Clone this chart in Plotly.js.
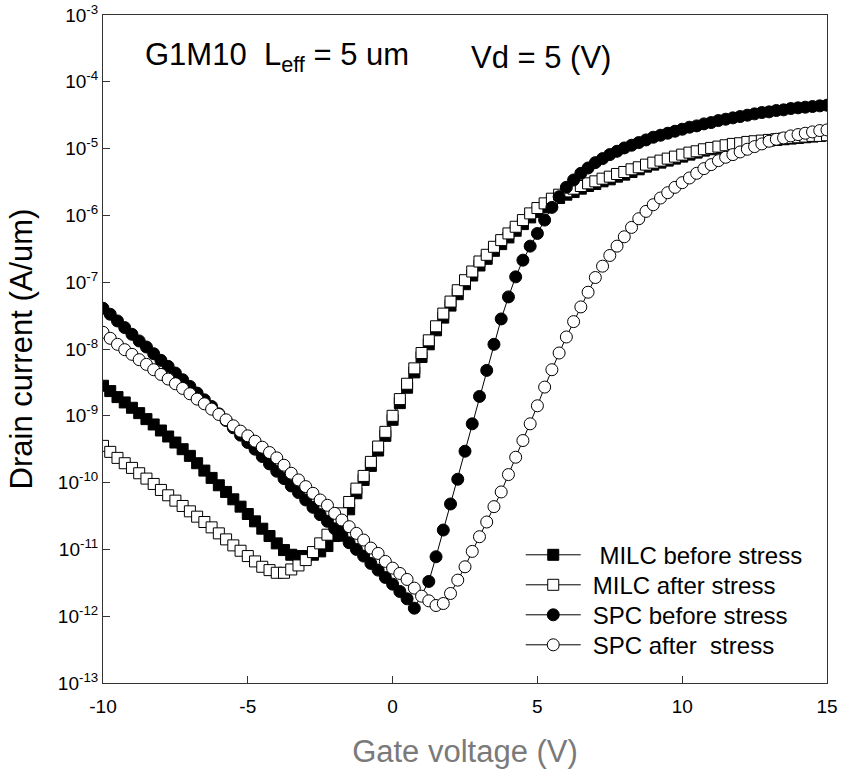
<!DOCTYPE html>
<html>
<head>
<meta charset="utf-8">
<script src="https://cdn.plot.ly/plotly-3.0.1.min.js"></script>
<style>
html,body{margin:0;padding:0;background:#fff;}
#chart{width:842px;height:774px;}
</style>
</head>
<body>
<div id="chart"></div>
<script>
// Gate voltage (V)
const gateVoltage = [
-10,-9.75,-9.5,-9.25,-9,-8.75,-8.5,-8.25,-8,-7.75,
-7.5,-7.25,-7,-6.75,-6.5,-6.25,-6,-5.75,-5.5,-5.25,
-5,-4.75,-4.5,-4.25,-4,-3.75,-3.5,-3.25,-3,-2.75,
-2.5,-2.25,-2,-1.75,-1.5,-1.25,-1,-0.75,-0.5,-0.25,
0,0.25,0.5,0.75,1,1.25,1.5,1.75,2,2.25,
2.5,2.75,3,3.25,3.5,3.75,4,4.25,4.5,4.75,
5,5.25,5.5,5.75,6,6.25,6.5,6.75,7,7.25,
7.5,7.75,8,8.25,8.5,8.75,9,9.25,9.5,9.75,
10,10.25,10.5,10.75,11,11.25,11.5,11.75,12,12.25,
12.5,12.75,13,13.25,13.5,13.75,14,14.25,14.5,14.75,
15];

// log10 of drain current (A/um)
const milcBeforeLog = [
-8.55,-8.63,-8.72,-8.80,-8.88,-8.96,-9.05,-9.13,-9.22,-9.31,
-9.40,-9.50,-9.60,-9.71,-9.82,-9.93,-10.04,-10.14,-10.25,-10.36,
-10.47,-10.58,-10.69,-10.80,-10.91,-11.01,-11.08,-11.10,-11.10,-11.08,
-11.03,-10.95,-10.80,-10.62,-10.40,-10.16,-9.96,-9.75,-9.52,-9.30,
-9.06,-8.81,-8.58,-8.35,-8.12,-7.93,-7.72,-7.53,-7.35,-7.18,
-7.03,-6.90,-6.75,-6.65,-6.53,-6.43,-6.33,-6.23,-6.13,-6.03,
-5.95,-5.88,-5.80,-5.74,-5.69,-5.65,-5.60,-5.56,-5.53,-5.49,
-5.46,-5.42,-5.39,-5.35,-5.31,-5.27,-5.24,-5.21,-5.18,-5.15,
-5.12,-5.09,-5.06,-5.03,-5.01,-4.99,-4.97,-4.95,-4.93,-4.91,
-4.90,-4.89,-4.88,-4.87,-4.86,-4.85,-4.84,-4.83,-4.82,-4.81,
-4.80];

const milcAfterLog = [
-9.45,-9.54,-9.63,-9.71,-9.78,-9.86,-9.94,-10.02,-10.11,-10.19,
-10.27,-10.35,-10.43,-10.51,-10.59,-10.67,-10.76,-10.85,-10.94,-11.02,
-11.10,-11.18,-11.26,-11.31,-11.35,-11.35,-11.30,-11.24,-11.16,-11.04,
-10.91,-10.78,-10.62,-10.46,-10.29,-10.09,-9.90,-9.69,-9.46,-9.24,
-9.00,-8.75,-8.52,-8.29,-8.06,-7.87,-7.66,-7.47,-7.29,-7.12,
-6.97,-6.84,-6.69,-6.59,-6.47,-6.37,-6.27,-6.17,-6.07,-5.97,
-5.89,-5.82,-5.75,-5.69,-5.64,-5.60,-5.56,-5.52,-5.49,-5.45,
-5.42,-5.38,-5.35,-5.31,-5.28,-5.24,-5.21,-5.18,-5.15,-5.12,
-5.09,-5.06,-5.04,-5.01,-4.99,-4.97,-4.95,-4.93,-4.92,-4.90,
-4.89,-4.88,-4.87,-4.86,-4.85,-4.84,-4.83,-4.82,-4.81,-4.81,
-4.80];

const spcBeforeLog = [
-7.39,-7.48,-7.58,-7.68,-7.78,-7.88,-7.97,-8.07,-8.17,-8.26,
-8.36,-8.46,-8.56,-8.66,-8.76,-8.86,-8.97,-9.07,-9.18,-9.29,
-9.40,-9.50,-9.61,-9.72,-9.83,-9.94,-10.05,-10.15,-10.26,-10.37,
-10.48,-10.58,-10.69,-10.79,-10.90,-11.00,-11.10,-11.21,-11.31,-11.42,
-11.52,-11.63,-11.74,-11.88,null,-11.48,-11.11,-10.71,-10.32,-9.95,
-9.53,-9.12,-8.71,-8.32,-7.93,-7.55,-7.22,-6.92,-6.67,-6.46,
-6.27,-6.07,-5.88,-5.72,-5.58,-5.47,-5.37,-5.29,-5.21,-5.15,
-5.09,-5.04,-4.99,-4.95,-4.91,-4.87,-4.83,-4.80,-4.77,-4.74,
-4.71,-4.68,-4.66,-4.63,-4.61,-4.58,-4.56,-4.54,-4.52,-4.50,
-4.48,-4.46,-4.45,-4.43,-4.42,-4.40,-4.39,-4.38,-4.37,-4.36,
-4.35];

const spcAfterLog = [
-7.75,-7.84,-7.93,-8.01,-8.08,-8.16,-8.23,-8.31,-8.38,-8.45,
-8.52,-8.59,-8.67,-8.75,-8.82,-8.90,-8.98,-9.06,-9.15,-9.23,
-9.30,-9.38,-9.47,-9.55,-9.63,-9.74,-9.86,-9.96,-10.06,-10.16,
-10.26,-10.34,-10.46,-10.56,-10.66,-10.76,-10.86,-10.98,-11.06,-11.18,
-11.28,-11.36,-11.45,-11.58,-11.70,-11.77,-11.84,-11.81,-11.66,-11.46,
-11.26,-11.03,-10.81,-10.59,-10.36,-10.14,-9.88,-9.62,-9.37,-9.12,
-8.85,-8.57,-8.31,-8.06,-7.82,-7.59,-7.37,-7.15,-6.93,-6.76,
-6.60,-6.46,-6.32,-6.18,-6.05,-5.94,-5.84,-5.74,-5.66,-5.58,
-5.51,-5.44,-5.37,-5.30,-5.24,-5.18,-5.13,-5.09,-5.05,-5.01,
-4.97,-4.93,-4.89,-4.86,-4.84,-4.81,-4.79,-4.77,-4.75,-4.73,
-4.72];

const seriesNames = ["\u00A0MILC before stress", "MILC after stress", "SPC before stress", "SPC after\u00A0 stress"];
const xTickVals = [-10, -5, 0, 5, 10, 15];
const xTickText = ["-10", "-5", "0", "5", "10", "15"];
const yExponents = [-13, -12, -11, -10, -9, -8, -7, -6, -5, -4, -3];
const yTickVals = yExponents.map(e => Math.pow(10, e));
const yTickText = yExponents.map(e => "10<sup>" + e + "</sup>");

const toCurrent = arr => arr.map(v => v === null ? null : Math.pow(10, v));

function trace(name, logs, symbol, fill, size) {
  return {
    x: gateVoltage, y: toCurrent(logs), name: name,
    type: "scatter", mode: "lines+markers", connectgaps: true,
    line: {color: "#000", width: 1},
    marker: {symbol: symbol, size: size, color: fill, line: {color: "#000", width: 1}}
  };
}

const data = [
  trace(seriesNames[0], milcBeforeLog, "square", "#000", 11),
  trace(seriesNames[1], milcAfterLog, "square", "#fff", 11),
  trace(seriesNames[2], spcBeforeLog, "circle", "#000", 12),
  trace(seriesNames[3], spcAfterLog, "circle", "#fff", 12)
];

const layout = {
  width: 842, height: 774,
  margin: {l: 103, r: 15, t: 15, b: 91},
  paper_bgcolor: "#fff", plot_bgcolor: "#fff",
  font: {family: "Liberation Sans, Arial, sans-serif", color: "#000", size: 19},
  showlegend: true,
  legend: {
    x: 0.577, y: 0.225, xanchor: "left", yanchor: "top",
    bgcolor: "rgba(0,0,0,0)", borderwidth: 0,
    font: {size: 24, color: "#000"}, itemwidth: 62, tracegroupgap: 0
  },
  xaxis: {
    range: [-10, 15], tickvals: xTickVals, ticktext: xTickText, ticks: "inside", ticklen: 7,
    tickcolor: "#333", showgrid: false, zeroline: false,
    showline: true, linecolor: "#333", linewidth: 1, mirror: true,
    tickfont: {size: 19}, ticklabelstandoff: 6,
    title: {text: "Gate voltage (V)", font: {size: 31, color: "#7a7a7a"}, standoff: 24}
  },
  yaxis: {
    type: "log", range: [-13, -3], tickvals: yTickVals, ticktext: yTickText,
    ticks: "inside", ticklen: 7, tickcolor: "#333", showgrid: false, zeroline: false,
    showline: true, linecolor: "#333", linewidth: 1, mirror: true,
    tickfont: {size: 19},
    title: {text: "Drain current (A/um)", font: {size: 31, color: "#000"}, standoff: 15}
  },
  annotations: [
    {xref: "paper", yref: "paper", x: 0.055, y: 0.937, xanchor: "left", yanchor: "middle",
     showarrow: false, text: "G1M10\u00A0 L<sub>eff</sub> = 5 um", font: {size: 31, color: "#000"}},
    {xref: "paper", yref: "paper", x: 0.505, y: 0.937, xanchor: "left", yanchor: "middle",
     showarrow: false, text: "Vd = 5 (V)", font: {size: 31, color: "#000"}}
  ]
};

Plotly.newPlot("chart", data, layout, {displayModeBar: false, staticPlot: true}).then(function (gd) {
  // legend look: longer symbol lines, tighter rows (presentation only)
  const items = gd.querySelectorAll(".legend .traces");
  let y0 = null;
  items.forEach(function (it, i) {
    const tr = it.getAttribute("transform") || "";
    const m = /translate\(([-\d.]+)[ ,]*([-\d.]+)?\)/.exec(tr);
    if (m) {
      const tx = parseFloat(m[1]);
      const ty = parseFloat(m[2] || 0);
      if (y0 === null) y0 = ty;
      it.setAttribute("transform", "translate(" + tx + "," + (y0 + i * 30) + ")");
    }
    it.querySelectorAll(".legendlines path").forEach(function (p) {
      p.setAttribute("d", "M5,0h55");
    });
    it.querySelectorAll(".legendpoints path.scatterpts").forEach(function (p) {
      const t = p.getAttribute("transform") || "";
      p.setAttribute("transform", t.replace(/translate\(([-\d.]+)/, "translate(32.5"));
    });
  });
});
</script>
</body>
</html>
